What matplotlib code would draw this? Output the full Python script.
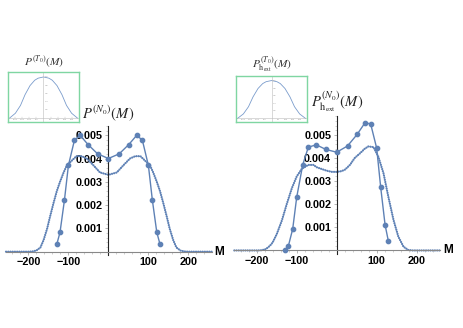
import numpy as np
import matplotlib
matplotlib.use("Agg")
import matplotlib.pyplot as plt
from matplotlib import transforms
from matplotlib.ticker import MultipleLocator

plt.rcParams['mathtext.fontset'] = 'stix'

blue = '#5e81b5'
green = '#7fd6a2'

# connected points (same M grid for both panels)
m_pts = [-129, -121, -110, -100, -85, -71, -51, -27, 0, 27, 51, 71, 85, 100, 110, 121, 129]
p_left = [0.00032, 0.00083, 0.0022, 0.0037, 0.00478, 0.0050, 0.0046, 0.0042, 0.0040,
          0.0042, 0.0046, 0.0050, 0.00478, 0.0037, 0.0022, 0.00083, 0.00032]
p_right = [0.00002, 0.00018, 0.00093, 0.0023, 0.0037, 0.00447, 0.00457, 0.00437, 0.00425,
           0.00452, 0.00502, 0.00553, 0.00547, 0.00442, 0.00273, 0.0011, 0.00042]

# dense (dotted) curves
m_left_d = [-256, -200, -190, -180, -170, -162, -153, -146, -137, -129, -121, -112, -104, -92, -80, -67,
            -54, -37, -21, 0, 21, 37, 54, 67, 80, 92, 104, 112, 121, 129, 137, 146, 153, 162, 170,
            180, 190, 200, 258]
p_left_d = [0, 0, 0.00001, 0.00005, 0.00018, 0.0005, 0.001, 0.0015, 0.0021, 0.0026, 0.0030, 0.0034,
            0.0037, 0.0039, 0.0041, 0.0041, 0.0040, 0.0037, 0.0034, 0.0033, 0.0034, 0.0037, 0.0040,
            0.0041, 0.0041, 0.0039, 0.0037, 0.0034, 0.0030, 0.0026, 0.0021, 0.0015, 0.001, 0.0005,
            0.00018, 0.00005, 0.00001, 0, 0]

m_right_d = [-256, -197, -187, -177, -167, -160, -150, -137, -125, -112, -100, -87, -71, -58, -50,
             -37, -25, -12, 0, 12, 21, 33, 45, 58, 70, 79, 92, 104, 117, 129, 142, 154, 167, 179,
             190, 258]
p_right_d = [0, 0, 0.00001, 0.00006, 0.0002, 0.00035, 0.0007, 0.0013, 0.002, 0.0027, 0.0032, 0.00354,
             0.0037, 0.0037, 0.0036, 0.00352, 0.00345, 0.0034, 0.0034, 0.00343, 0.0035, 0.0037,
             0.0040, 0.0042, 0.0044, 0.0045, 0.00447, 0.00406, 0.00334, 0.00233, 0.00132, 0.0006,
             0.00016, 0.00002, 0, 0]

# inset curves (relative height)
m_inset = [-240, -198, -162, -130, -95, -62, -38, 0, 38, 62, 95, 130, 162, 198, 240]
p_inset_left = [0.0, 0.12, 0.31, 0.57, 0.79, 0.92, 0.97, 1.0, 0.97, 0.92, 0.79, 0.57, 0.31, 0.12, 0.0]
p_inset_right = [0.0, 0.12, 0.31, 0.57, 0.79, 0.92, 0.97, 1.0, 0.97, 0.92, 0.79, 0.57, 0.31, 0.12, 0.0]

x_ticks = [-200, -100, 100, 200]
x_labels = ['\u2212200', '\u2212100', '100', '200']
y_ticks = [0.001, 0.002, 0.003, 0.004, 0.005]

fig = plt.figure(figsize=(4.63, 3.28), dpi=100)
W, H = 463.0, 328.0


def main_panel(rect, ylim, m_d, p_d, p_c, title):
    ax = fig.add_axes(rect)
    ax.patch.set_alpha(0)
    ax.plot(m_d, p_d, color=blue, lw=1.6, linestyle=(0, (0.05, 0.95)),
            dash_capstyle='round', clip_on=False, zorder=2)
    ax.plot(m_pts, p_c, color=blue, lw=1.0, marker='o', ms=3.1, zorder=3, clip_on=False)
    ax.set_xlim(-256, 258)
    ax.set_ylim(*ylim)
    ax.spines['top'].set_visible(False)
    ax.spines['right'].set_visible(False)
    ax.spines['left'].set_position(('data', 0))
    ax.spines['bottom'].set_position(('data', 0))
    ax.spines['left'].set_color('#222222')
    ax.spines['bottom'].set_color('#888888')
    ax.spines['left'].set_linewidth(0.8)
    ax.spines['bottom'].set_linewidth(0.8)
    ax.set_xticks(x_ticks)
    ax.set_xticklabels(x_labels)
    ax.set_yticks(y_ticks)
    ax.set_yticklabels(['%.3f' % v for v in y_ticks])
    ax.xaxis.set_minor_locator(MultipleLocator(20))
    ax.yaxis.set_minor_locator(MultipleLocator(0.0002))
    ax.tick_params(which='major', length=2.5, width=0.5, color='#999999', pad=1.5)
    ax.tick_params(which='minor', length=1.3, width=0.4, color='#aaaaaa')
    for lab in ax.get_xticklabels() + ax.get_yticklabels():
        lab.set_fontfamily('Liberation Sans')
        lab.set_fontweight('bold')
        lab.set_fontsize(7.8)
    ax.text(1.015, 0, 'M', transform=transforms.blended_transform_factory(ax.transAxes, ax.transData),
            ha='left', va='center', fontfamily='Liberation Sans', fontweight='bold', fontsize=8.5)
    ax.text(0, 1.02, title, transform=transforms.blended_transform_factory(ax.transData, ax.transAxes),
            ha='center', va='bottom', fontsize=10.5, color='#222222')
    return ax


def inset_panel(rect, p_in, title):
    ax = fig.add_axes(rect)
    ax.plot(m_inset, p_in, color='#7a9ccc', lw=0.6)
    ax.set_xlim(-250, 250)
    ax.set_ylim(-0.08, 1.12)
    for s in ax.spines.values():
        s.set_color(green)
        s.set_linewidth(1.0)
    ax.set_xticks([])
    ax.set_yticks([])
    ax.axhline(0, color='#bbbbbb', lw=0.4)
    ax.axvline(0, color='#bbbbbb', lw=0.4)
    for t in [-200, -150, -100, -50, 50, 100, 150, 200]:
        ax.plot([t, t], [0, 0.025], color='#bbbbbb', lw=0.3)
        ax.text(t, -0.02, str(t), fontsize=1.6, ha='center', va='top', color='#999999')
    for v in [0.2, 0.4, 0.6, 0.8, 1.0]:
        ax.text(6, v, '%.1f' % v, fontsize=1.6, ha='left', va='center', color='#999999')
    ax.text(0.5, 1.04, title, transform=ax.transAxes, ha='center', va='bottom',
            fontsize=8.2, color='#333333')
    return ax


# left panel
main_panel([6 / W, 0.2220, 205.6 / W, 0.3942], (-0.00015, 0.0054),
           m_left_d, p_left_d, p_left, r'$P^{(N_0)}(M)$')
# right panel
main_panel([234.3 / W, 0.2259, 205.6 / W, 0.4192], (-0.00015, 0.0058),
           m_right_d, p_right_d, p_right, r'$P^{(N_0)}_{\mathrm{h}_{\mathrm{ext}}}(M)$')

inset_panel([8 / W, (H - 121.5) / H, 71 / W, 49.5 / H], p_inset_left, r'$P^{(T_0)}(M)$')
inset_panel([236 / W, (H - 121.5) / H, 71 / W, 45.5 / H], p_inset_right,
            r'$P^{(T_0)}_{\mathrm{h}_{\mathrm{ext}}}(M)$')

fig.savefig('out.png', dpi=100)
